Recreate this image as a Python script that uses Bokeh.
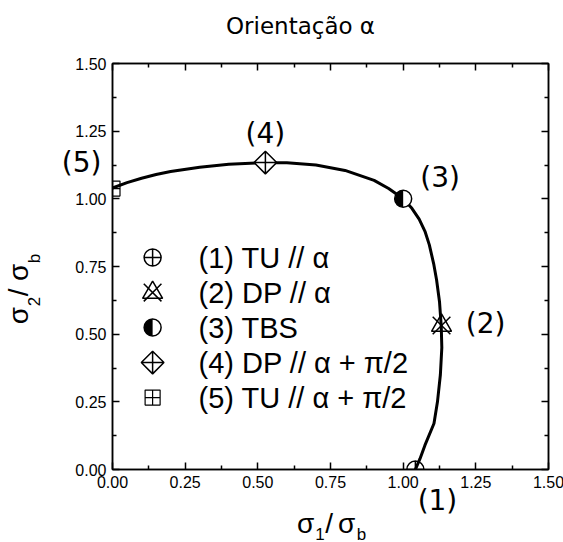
import math
from bokeh.plotting import figure
from bokeh.models import (Label, LinearAxis, FixedTicker, NumeralTickFormatter, Range1d,
                          CustomJSTickFormatter, AllLabels)
from bokeh.core.properties import value
from bokeh.embed import file_html
from bokeh.resources import INLINE

# ---------------- data ----------------
major_ticks = [0.0, 0.25, 0.5, 0.75, 1.0, 1.25, 1.5]
minor_ticks = [0.125, 0.375, 0.625, 0.875, 1.125, 1.375]

curve_x = [0.00, 0.05, 0.10, 0.15, 0.20, 0.30, 0.40, 0.50, 0.60, 0.70, 0.80, 0.90, 0.95, 1.00,
           1.03, 1.055, 1.075, 1.09, 1.105, 1.115, 1.125, 1.131, 1.133, 1.128, 1.118, 1.106,
           1.075, 1.058, 1.042]
curve_y = [1.040, 1.060, 1.076, 1.090, 1.101, 1.117, 1.128, 1.133, 1.133, 1.125, 1.105, 1.068, 1.038, 1.000,
           0.965, 0.925, 0.880, 0.830, 0.760, 0.700, 0.620, 0.530, 0.450, 0.350, 0.250, 0.170,
           0.090, 0.040, 0.000]

point_labels = ["(1)", "(2)", "(3)", "(4)", "(5)"]
point_x = [1.042, 1.132, 1.000, 0.526, 0.000]
point_y = [0.000, 0.532, 1.000, 1.134, 1.038]

legend_texts = ["(1) TU // α", "(2) DP // α", "(3) TBS", "(4) DP // α + π/2", "(5) TU // α + π/2"]

title_text = "Orientação α"
xlabel_main = ["σ", "/", "σ"]
xlabel_main_pos = [0.6644, 0.7449, 0.8058]
xlabel_sub = ["1", "b"]
xlabel_sub_pos = [0.7139, 0.8563]
ylabel_main = ["σ", "/", "σ"]
ylabel_main_pos = [0.5690, 0.6540, 0.7279]
ylabel_sub = ["2", "b"]
ylabel_sub_pos = [0.6207, 0.7796]

# ---------------- figure ----------------
p = figure(frame_width=436, frame_height=406, x_range=Range1d(0, 1.5), y_range=Range1d(0, 1.5),
           output_backend="svg", toolbar_location=None, title=None,
           min_border_left=110, min_border_right=17, min_border_top=63, min_border_bottom=73)
p.grid.visible = False
p.outline_line_color = "black"
p.outline_line_width = 1.5
p.background_fill_color = "white"
p.border_fill_color = "white"

def style_axis(ax, show_labels=True):
    ax.ticker = FixedTicker(ticks=major_ticks, minor_ticks=minor_ticks)
    ax.formatter = NumeralTickFormatter(format="0.00")
    ax.major_tick_in = 7
    ax.major_tick_out = 0
    ax.minor_tick_in = 4
    ax.minor_tick_out = 0
    ax.axis_line_width = 1.5
    ax.major_tick_line_width = 1.5
    ax.minor_tick_line_width = 1.5
    ax.axis_line_color = "black"
    ax.major_tick_line_color = "black"
    ax.minor_tick_line_color = "black"
    ax.major_label_text_font = "Liberation Sans"
    ax.major_label_text_font_size = "16px"
    ax.major_label_text_color = "black"
    ax.major_label_standoff = 6
    if not show_labels:
        ax.major_label_text_font_size = "1px"
        ax.major_label_text_color = None
        ax.major_label_standoff = 0

style_axis(p.xaxis[0])
style_axis(p.yaxis[0])

ax_r = LinearAxis()
style_axis(ax_r, False)
p.add_layout(ax_r, "right")
ax_t = LinearAxis()
style_axis(ax_t, False)
p.add_layout(ax_t, "above")

LOOKUP = """
let best = 0; let d = Infinity;
for (let i = 0; i < vals.length; i++) {
  const e = Math.abs(vals[i] - tick);
  if (e < d) { d = e; best = i }
}
return labs[best];
"""

def text_axis(side, positions, labels, font, size, standoff, orientation="horizontal"):
    ax = LinearAxis(ticker=FixedTicker(ticks=positions, minor_ticks=[]),
                    formatter=CustomJSTickFormatter(args=dict(vals=positions, labs=labels), code=LOOKUP),
                    axis_line_color=None, major_tick_line_color=None, minor_tick_line_color=None,
                    major_tick_in=0, major_tick_out=0, minor_tick_in=0, minor_tick_out=0,
                    major_label_standoff=standoff, major_label_text_font=font,
                    major_label_text_font_size=size, major_label_orientation=orientation,
                    major_label_text_color="black", major_label_policy=AllLabels())
    p.add_layout(ax, side)
    return ax

# texts outside the frame, drawn as axis labels (not clipped)
text_axis("below", [point_x[0] + 0.076], [point_labels[0]], "DejaVu Sans", "28px", -7)
text_axis("below", xlabel_main_pos, xlabel_main, "Liberation Sans", "28px", -12)
text_axis("below", xlabel_sub_pos, xlabel_sub, "Liberation Sans", "17px", -17)

text_axis("left", [point_y[4] + 0.096], [point_labels[4]], "DejaVu Sans", "28px", -29)
text_axis("left", ylabel_sub_pos, ylabel_sub, "Liberation Sans", "17px", 14, "vertical")
text_axis("left", ylabel_main_pos, ylabel_main, "Liberation Sans", "28px", -12, "vertical")

text_axis("above", [0.6468], [title_text], "DejaVu Sans", "23px", 25)

# ---------------- curve ----------------
p.line(curve_x, curve_y, line_width=3, line_color="black")

LW = 1.5
def draw_marker(i, x, y):
    if i == 0:
        p.scatter([x], [y], marker="circle_cross", size=17, fill_color=None, line_color="black", line_width=LW)
    elif i == 1:
        p.scatter([x], [y], marker="triangle", size=20, fill_color=None, line_color="black", line_width=LW)
        p.scatter([x], [y], marker="x", size=25, line_color="black", line_width=LW)
    elif i == 2:
        p.scatter([x], [y], marker="circle", size=17, fill_color="white", line_color=None)
        p.wedge([x], [y], radius=8.5, radius_units="screen", start_angle=math.pi / 2,
                end_angle=3 * math.pi / 2, fill_color="black", line_color=None)
        p.scatter([x], [y], marker="circle", size=17, fill_color=None, line_color="black", line_width=LW)
    elif i == 3:
        p.scatter([x], [y], marker="square_x", size=16, angle=math.pi / 4, fill_color="white",
                  line_color="black", line_width=LW)
    else:
        p.scatter([x], [y], marker="square_cross", size=15, fill_color=None, line_color="black", line_width=1.2)

for i in range(5):
    draw_marker(i, point_x[i], point_y[i])

# point annotations inside the frame (pixel offsets from the data points)
offsets = {1: (44, 2), 2: (37, 21), 3: (0, 29)}
for i, (dx, dy) in offsets.items():
    p.add_layout(Label(x=point_x[i], y=point_y[i], x_offset=dx, y_offset=dy,
                       text=point_labels[i], text_font="DejaVu Sans", text_font_size="28px",
                       text_align="center", text_baseline="middle", text_color="black"))

# ---------------- legend (drawn in data space) ----------------
leg_mx = 0.138
leg_tx = 0.296
leg_y0 = 0.783
leg_dy = 0.1293
for i in range(5):
    yy = leg_y0 - i * leg_dy
    draw_marker(i, leg_mx, yy)
    p.text([leg_tx], [yy], text=[legend_texts[i]], text_font=value("Liberation Sans"),
           text_font_size="29px", text_align="left", text_baseline="middle", text_color="black")

open("out.html", "w").write(file_html(p, INLINE))
